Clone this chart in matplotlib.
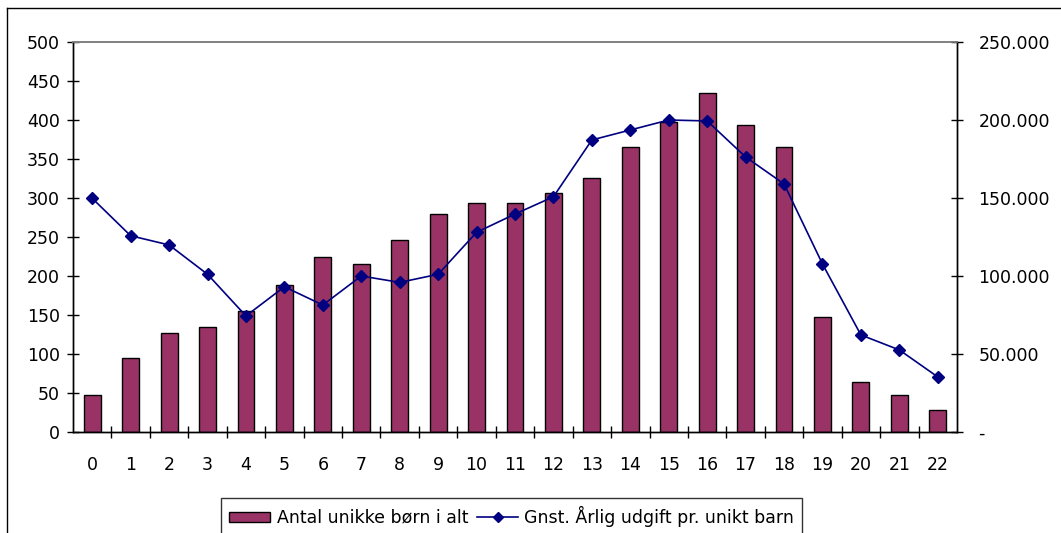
import matplotlib
matplotlib.use('Agg')
import matplotlib.pyplot as plt
from matplotlib.lines import Line2D
from matplotlib.ticker import FuncFormatter

plt.rcParams['font.family'] = ['DejaVu Sans']

# data
ages = list(range(23))
antal_boern = [47, 95, 127, 135, 155, 188, 224, 216, 246, 280, 294, 294, 307,
               326, 365, 397, 435, 393, 365, 147, 64, 48, 28]
udgift = [149800, 125800, 119900, 101100, 74400, 93100, 81400, 100000, 95900,
          101100, 128000, 139700, 150800, 187200, 193600, 200000, 199400,
          176300, 159000, 107700, 62200, 52600, 35300]

bar_label = 'Antal unikke børn i alt'
line_label = 'Gnst. Årlig udgift pr. unikt barn'

FS = 12.5
W, H = 1061, 533
fig = plt.figure(figsize=(W / 100, H / 100), dpi=100)

# plot area in pixels
left, right, top, bottom = 73, 957, 42, 432
ax = fig.add_axes([left / W, 1 - bottom / H, (right - left) / W, (bottom - top) / H])
ax2 = ax.twinx()

ax.bar(ages, antal_boern, width=0.44, color='#993366', edgecolor='black', linewidth=1.0, zorder=2)
ax2.plot(ages, udgift, color='#000080', marker='D', markersize=6, linewidth=1.2, zorder=3)

ax.set_xlim(-0.5, len(ages) - 0.5)
ax.set_ylim(0, 500)
ax2.set_ylim(0, 250000)
ax.set_yticks(range(0, 501, 50))
ax2.set_yticks(range(0, 250001, 50000))
ax2.yaxis.set_major_formatter(FuncFormatter(
    lambda v, p: '-' if v == 0 else f'{int(v):,}'.replace(',', '.')))

ax.set_xticks(ages)
ax.set_xticks([i + 0.5 for i in ages[:-1]], minor=True)
ax.tick_params(axis='x', which='major', length=0, pad=17, labelsize=FS)
ax.tick_params(axis='x', which='minor', direction='inout', length=9, width=1)
ax.tick_params(axis='y', direction='inout', length=9, width=1, pad=5, labelsize=FS)
ax2.tick_params(axis='y', direction='inout', length=9, width=1, pad=11, labelsize=FS)
for lbl in ax2.get_yticklabels():
    lbl.set_horizontalalignment('left')

for a in (ax, ax2):
    a.spines['top'].set_color('#808080')
    a.spines['top'].set_linewidth(1.2)
    for s in ('left', 'right', 'bottom'):
        a.spines[s].set_color('black')
        a.spines[s].set_linewidth(1.0)

# outer chart border (partly outside the image)
fig.add_artist(Line2D([7 / W, 7 / W], [0, 1 - 8 / H], transform=fig.transFigure, color='black', linewidth=1))
fig.add_artist(Line2D([7 / W, 1], [1 - 8 / H, 1 - 8 / H], transform=fig.transFigure, color='black', linewidth=1))

handles = [
    plt.Rectangle((0, 0), 1, 1, facecolor='#993366', edgecolor='black', linewidth=1),
    Line2D([], [], color='#000080', marker='D', markersize=5, linewidth=1.2),
]
leg = fig.legend(handles, [bar_label, line_label], loc='upper left',
                 bbox_to_anchor=(221 / W, 1 - 498 / H), ncol=2, frameon=True,
                 fancybox=False, edgecolor='black', fontsize=FS,
                 handlelength=2.4, handleheight=0.55, handletextpad=0.35,
                 columnspacing=0.5, borderpad=0.45, borderaxespad=0)
leg.get_frame().set_linewidth(1.0)

fig.savefig('out.png', dpi=100)
